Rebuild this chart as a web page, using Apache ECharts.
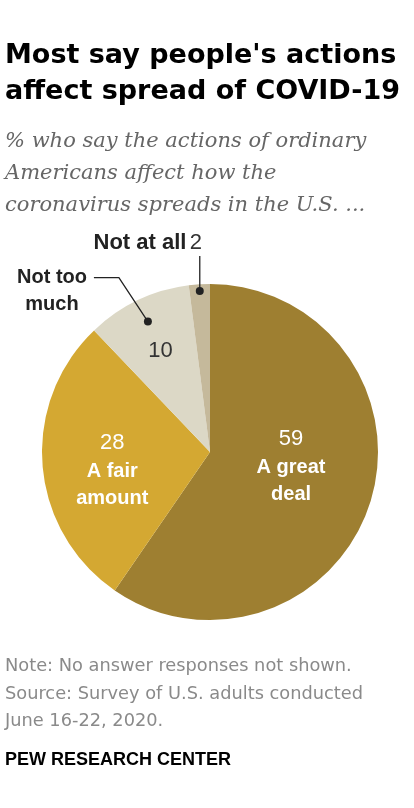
<!DOCTYPE html>
<html>
<head>
<meta charset="utf-8">
<script src="https://cdn.jsdelivr.net/npm/echarts@6/dist/echarts.min.js"></script>
<style>
  html, body { margin: 0; padding: 0; background: #fff; }
  #chart { width: 414px; height: 808px; }
</style>
</head>
<body>
<div id="chart"></div>
<script>
// data
var categories = ['A great deal', 'A fair amount', 'Not too much', 'Not at all'];
var values = [59, 28, 10, 2];
var colors = ['#9e7f31', '#d4a832', '#dcd8c6', '#c5b99b'];

var cx = 210, cy = 452, R = 168;
var total = values.reduce(function (a, b) { return a + b; }, 0);

// point on slice bisector, k = fraction of radius
function polar(i, k) {
    var before = 0;
    for (var j = 0; j < i; j++) before += values[j];
    var a = (before + values[i] / 2) / total * Math.PI * 2;
    return [cx + k * R * Math.sin(a), cy - k * R * Math.cos(a)];
}

// nudges for the inside labels
var insideShift = [[-2, -12], [-11, 11], [-12, -23]];

var chart = echarts.init(document.getElementById('chart'));

var dotA = polar(2, 0.86);
var dotB = polar(3, 0.96);

var option = {
    animation: false,
    title: [
        {
            text: "Most say people's actions\naffect spread of COVID-19",
            left: 0, top: 33,
            textStyle: { fontFamily: 'DejaVu Sans', fontWeight: 'bold', fontSize: 27, lineHeight: 36, color: '#000' }
        },
        {
            text: '% who say the actions of ordinary\nAmericans affect how the\ncoronavirus spreads in the U.S. ...',
            left: 0, top: 121,
            textStyle: { fontFamily: 'DejaVu Serif', fontStyle: 'italic', fontWeight: 'normal', fontSize: 21, lineHeight: 32, color: '#666' }
        },
        {
            text: 'Note: No answer responses not shown.\nSource: Survey of U.S. adults conducted\nJune 16-22, 2020.',
            left: 0, top: 648,
            textStyle: { fontFamily: 'DejaVu Sans', fontWeight: 'normal', fontSize: 17.8, lineHeight: 27.5, color: '#8a8a8a' }
        },
        {
            text: 'PEW RESEARCH CENTER',
            left: 0, top: 746,
            textStyle: { fontFamily: 'Liberation Sans', fontWeight: 'bold', fontSize: 18, color: '#000' }
        }
    ],
    series: [
        {
            type: 'pie',
            center: [cx, cy],
            radius: R,
            startAngle: 90,
            clockwise: true,
            avoidLabelOverlap: false,
            silent: true,
            z: 2,
            itemStyle: { borderWidth: 0 },
            label: {
                show: true,
                position: 'inside',
                fontFamily: 'Liberation Sans',
                rich: {
                    n: { fontSize: 22, color: '#fff', lineHeight: 30, fontFamily: 'Liberation Sans' },
                    d: { fontSize: 22, color: '#333', lineHeight: 30, fontFamily: 'Liberation Sans' },
                    b: { fontSize: 20, fontWeight: 'bold', color: '#fff', lineHeight: 27, fontFamily: 'Liberation Sans' }
                }
            },
            labelLayout: function (p) {
                var s = insideShift[p.dataIndex];
                return s ? { dx: s[0], dy: s[1] } : {};
            },
            data: [
                { value: values[0], name: categories[0], itemStyle: { color: colors[0] },
                  label: { formatter: '{n|' + values[0] + '}\n{b|A great}\n{b|deal}' } },
                { value: values[1], name: categories[1], itemStyle: { color: colors[1] },
                  label: { formatter: '{n|' + values[1] + '}\n{b|A fair}\n{b|amount}' } },
                { value: values[2], name: categories[2], itemStyle: { color: colors[2] },
                  label: { formatter: '{d|' + values[2] + '}' } },
                { value: values[3], name: categories[3], itemStyle: { color: colors[3] },
                  label: { show: false } }
            ]
        },
        {
            // overlay for the outside labels
            type: 'pie',
            center: [cx, cy],
            radius: R,
            startAngle: 90,
            clockwise: true,
            avoidLabelOverlap: false,
            silent: true,
            z: 10,
            itemStyle: { color: 'transparent' },
            label: {
                show: true,
                position: 'outside',
                fontFamily: 'Liberation Sans',
                color: '#222',
                rich: {
                    b: { fontSize: 20, fontWeight: 'bold', color: '#222', lineHeight: 27, fontFamily: 'Liberation Sans' },
                    c: { fontSize: 22, fontWeight: 'bold', color: '#222', fontFamily: 'Liberation Sans' },
                    v: { fontSize: 22, color: '#333', fontFamily: 'Liberation Sans' }
                }
            },
            labelLine: { show: true, lineStyle: { color: '#222', width: 1.3 } },
            labelLayout: function (p) {
                if (p.dataIndex === 2) {
                    return {
                        x: 52, y: 291, align: 'center', verticalAlign: 'middle',
                        labelLinePoints: [dotA, [dotA[0] - 29, dotA[1] - 44], [dotA[0] - 54, dotA[1] - 44]]
                    };
                }
                if (p.dataIndex === 3) {
                    return {
                        x: 202, y: 243, align: 'right', verticalAlign: 'middle',
                        labelLinePoints: [dotB, [dotB[0], dotB[1] - 18], [dotB[0], dotB[1] - 35]]
                    };
                }
                return {};
            },
            data: [
                { value: values[0], name: categories[0], label: { show: false }, labelLine: { show: false } },
                { value: values[1], name: categories[1], label: { show: false }, labelLine: { show: false } },
                { value: values[2], name: categories[2], label: { formatter: '{b|Not too}\n{b|much}' } },
                { value: values[3], name: categories[3], label: { formatter: '{c|Not at all} {v|' + values[3] + '}' } }
            ]
        }
    ],
    graphic: [
        { type: 'circle', shape: { cx: dotA[0], cy: dotA[1], r: 4 }, style: { fill: '#222' }, z: 100 },
        { type: 'circle', shape: { cx: dotB[0], cy: dotB[1], r: 4 }, style: { fill: '#222' }, z: 100 }
    ]
};

chart.setOption(option);
</script>
</body>
</html>
